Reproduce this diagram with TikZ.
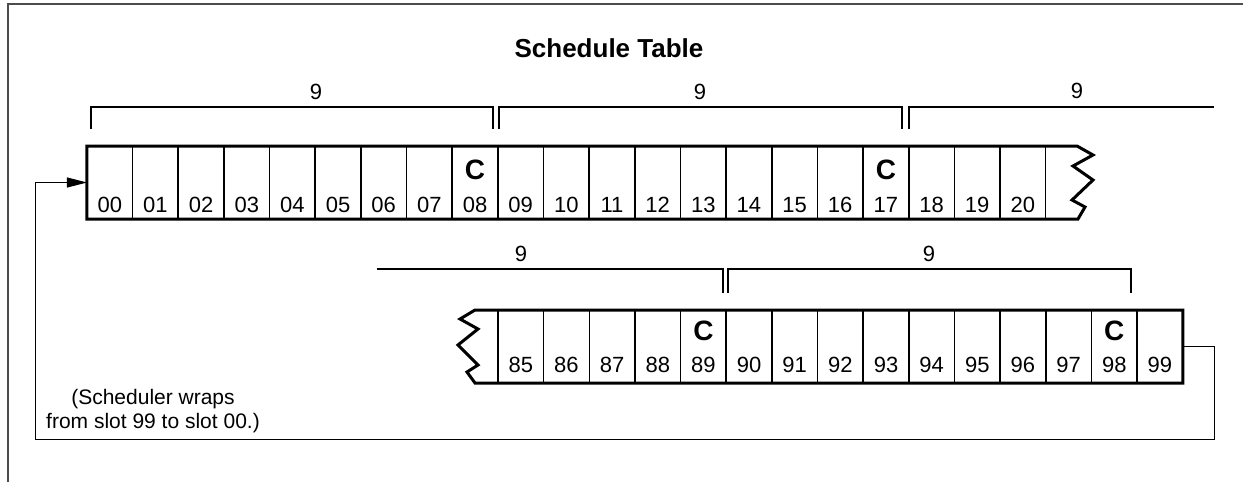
\documentclass[tikz,border=0pt]{standalone}
\usepackage{fontspec}
\setmainfont{Liberation Sans}
\usetikzlibrary{arrows.meta}

\begin{document}
\begin{tikzpicture}[x=0.5pt,y=-0.5pt]
\tikzstyle{slot}=[draw,line width=0.8pt,inner sep=0pt,outer sep=0pt,minimum width=22.83pt,minimum height=36.5pt]
\tikzstyle{slotnum}=[inner sep=0pt,font=\fontsize{11}{12}\selectfont]
\tikzstyle{notetext}=[inner sep=0pt,align=center,font=\fontsize{10.5}{12}\selectfont]
\tikzstyle{ckpt}=[inner sep=0pt,font=\fontsize{14}{16}\selectfont\bfseries]
\tikzstyle{heading}=[inner sep=0pt,font=\fontsize{13}{15}\selectfont\bfseries]
\tikzstyle{rowedge}=[line width=1.5pt,line join=miter]
\tikzstyle{span}=[line width=0.9pt]
\tikzstyle{wrap}=[line width=0.5pt]
\useasboundingbox (0,0) rectangle (1243,482);
\draw[line width=1pt,black!70] (8,482) -- (8,4) -- (1243,4);
\node[heading] (title) at (609,48.5) {Schedule Table};
\foreach \i in {0,...,20}{
  \node[slot] (s\i) at ({87+45.65*(\i+0.5)},182.5) {};
  \node[slotnum] at ([yshift=7pt]s\i.south) {\ifnum\i<10 0\fi\i};
}
\foreach \i in {85,...,99}{
  \node[slot] (s\i) at ({498+45.65*(\i-84.5)},346.5) {};
  \node[slotnum] at ([yshift=9.2pt]s\i.south) {\i};
}
\foreach \i in {8,17}
  \node[ckpt] at ([yshift=-12pt]s\i.north) {C};
\foreach \i in {89,98}
  \node[ckpt] at ([yshift=-10.5pt]s\i.north) {C};
\draw[rowedge] (s0.north west) -- (1077,146) -- (1093,155) -- (1073,166) -- (1093,180)
  -- (1072,200) -- (1085,207) -- (1078,219) -- (s0.south west) -- cycle;
\draw[rowedge] (475,310) -- (s99.north east) -- (s99.south east) -- (475,383) -- (467,372)
  -- (478,365) -- (458,345) -- (478,329) -- (460,319) -- cycle;
\draw[span] (91,129) -- (91,107) -- (493,107) -- (493,129);
\draw[span] (499,129) -- (499,107) -- (902,107) -- (902,129);
\draw[span] (909,129) -- (909,107) -- (1214,107);
\draw[span] (377,269) -- (723,269) -- (723,293);
\draw[span] (728,293) -- (728,269) -- (1131,269) -- (1131,293);
\node[slotnum] (n1) at (316,92) {9};
\node[slotnum] (n2) at (700,92) {9};
\node[slotnum] (n3) at (1077,91) {9};
\node[slotnum] (n4) at (521,254) {9};
\node[slotnum] (n5) at (929,254) {9};
\node[notetext] (note) at (153,411) {(Scheduler wraps\\from slot 99 to slot 00.)};
\coordinate (wrapR) at (1214,439);
\coordinate (wrapL) at (35,439);
\draw[wrap,-{Triangle[length=10pt,width=5pt]}] (s99.east) -| (wrapR) -- (wrapL) |- (s0.west);
\end{tikzpicture}
\end{document}
